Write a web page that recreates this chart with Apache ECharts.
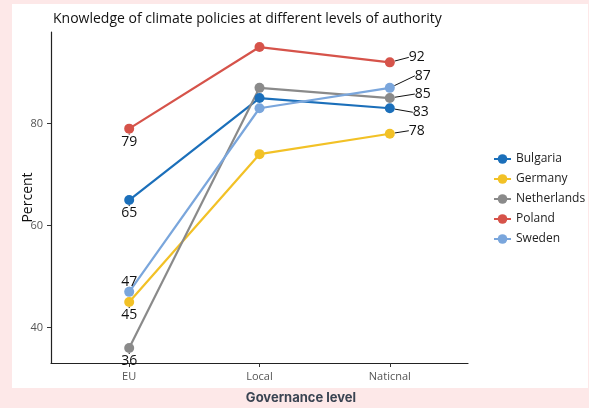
<!DOCTYPE html>
<html>
<head>
<meta charset="utf-8">
<script src="https://cdn.jsdelivr.net/npm/echarts@6/dist/echarts.min.js"></script>
<style>
  html, body { margin: 0; padding: 0; background: #fde8e8; }
  #chart { width: 589px; height: 408px; }
</style>
</head>
<body>
<div id="chart"></div>
<script>
// governance levels, placed at x = 1, 2, 3
const levels = ['EU', 'Local', 'Naticnal']
const countries = ['Bulgaria', 'Germany', 'Netherlands', 'Poland', 'Sweden']
const bulgaria = [65, 85, 83]
const germany = [45, 74, 78]
const netherlands = [36, 87, 85]
const poland = [79, 95, 92]
const sweden = [47, 83, 87]
const yTicks = [40, 60, 80]

const colors = ['#1b6fba', '#f2c126', '#8a8a8a', '#d6534a', '#7aa6dc']
const values = [bulgaria, germany, netherlands, poland, sweden]

// label placement: EU label side, national label shift
const euPos = ['bottom', 'bottom', 'bottom', 'bottom', 'top']
const natShift = [[4, 4], [0, -3], [6, -4], [0, -5], [6, -12]]

const chart = echarts.init(document.getElementById('chart'))

const series = countries.map((name, i) => ({
  name: name,
  type: 'line',
  color: colors[i],
  symbol: 'circle',
  symbolSize: 10,
  lineStyle: { width: 2.2 },
  data: values[i].map((v, j) => {
    const item = { value: [j + 1, v] }
    if (j === 0) {
      item.label = { show: true, position: euPos[i], distance: i === 4 ? -2 : 1 }
    } else if (j === 2) {
      item.label = { show: true, position: 'right', distance: 14 }
    }
    return item
  }),
  label: {
    color: '#111',
    fontSize: 14,
    fontFamily: 'Open Sans'
  },
  labelLine: { show: true, lineStyle: { color: '#111', width: 1 } },
  labelLayout: function (p) {
    if (p.dataIndex === 2) {
      return { dx: natShift[i][0], dy: natShift[i][1] }
    }
    return {}
  },
  z: 2 + (i === 4 ? 1 : 0)
}))

chart.setOption({
  animation: false,
  backgroundColor: 'transparent',
  graphic: [{
    type: 'rect',
    shape: { x: 12, y: 4, width: 576, height: 384 },
    style: { fill: '#ffffff' },
    z: -10
  }, {
    type: 'text',
    x: 301,
    y: 398,
    style: {
      text: 'Governance level',
      align: 'center',
      verticalAlign: 'middle',
      fontSize: 13,
      fontWeight: 'bold',
      fontFamily: 'Inter',
      fill: '#3a4452'
    }
  }],
  title: {
    text: 'Knowledge of climate policies at different levels of authority',
    left: 48,
    top: 7,
    textStyle: { fontSize: 14, fontWeight: 'normal', color: '#111', fontFamily: 'Open Sans' }
  },
  legend: {
    orient: 'vertical',
    left: 488,
    top: 148,
    itemGap: 8,
    itemWidth: 17,
    itemHeight: 12,
    textStyle: { fontSize: 12, color: '#222', fontFamily: 'Open Sans' },
    data: countries
  },
  grid: { left: 51, right: 121, top: 32, bottom: 45 },
  xAxis: {
    type: 'value',
    min: 0.4,
    max: 3.6,
    splitLine: { show: false },
    axisLine: { lineStyle: { color: '#222', width: 1.2 } },
    axisTick: { customValues: [1, 2, 3], length: 4, lineStyle: { color: '#333' } },
    axisLabel: {
      customValues: [1, 2, 3],
      formatter: v => levels[Math.round(v) - 1],
      color: '#555',
      fontSize: 11,
      fontFamily: 'Open Sans'
    }
  },
  yAxis: {
    type: 'value',
    min: 33.05,
    max: 97.95,
    name: 'Percent',
    nameLocation: 'middle',
    nameGap: 16,
    nameMoveOverlap: false,
    nameTextStyle: { fontSize: 14, color: '#111', fontFamily: 'Open Sans' },
    splitLine: { show: false },
    axisLine: { show: true, lineStyle: { color: '#222', width: 1.2 } },
    axisTick: { show: true, customValues: yTicks, length: 4, lineStyle: { color: '#333' } },
    axisLabel: {
      customValues: yTicks,
      color: '#555',
      fontSize: 11,
      fontFamily: 'Open Sans'
    }
  },
  series: series
})
</script>
</body>
</html>
